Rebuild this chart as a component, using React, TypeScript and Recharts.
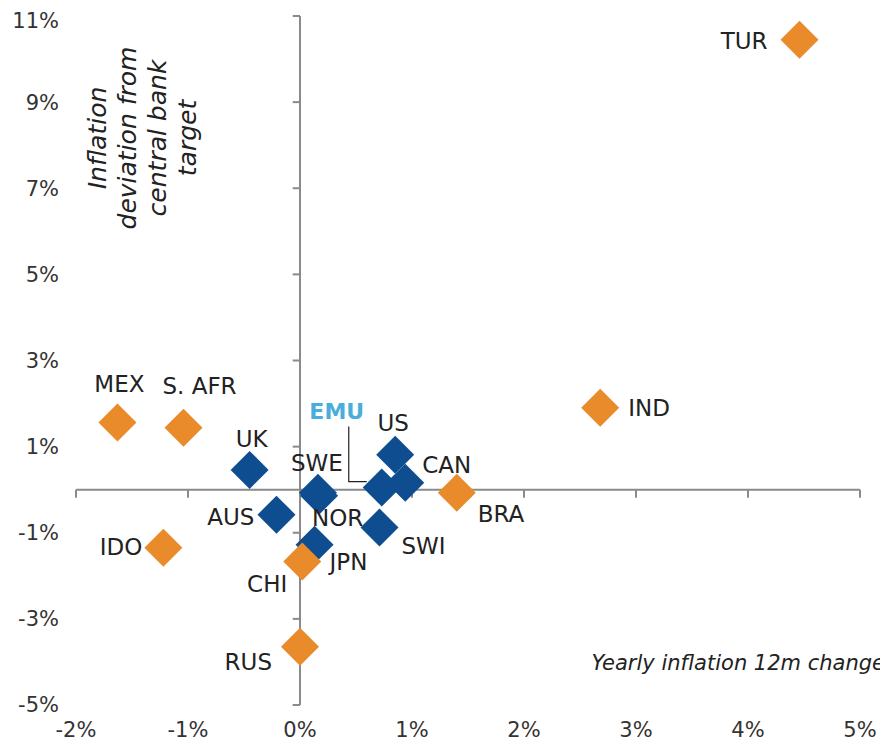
import React from 'react';
import { ScatterChart, Scatter, XAxis, YAxis, ReferenceLine, Customized } from 'recharts';

// ---- data ----
const advancedNames = ['UK', 'AUS', 'JPN', 'SWI', 'SWE', 'NOR', 'EMU', 'CAN', 'US'];
const advancedX = [-0.45, -0.21, 0.13, 0.71, 0.16, 0.17, 0.73, 0.94, 0.85];
const advancedY = [0.46, -0.58, -1.28, -0.88, -0.07, -0.14, 0.05, 0.16, 0.81];

const emergingNames = ['TUR', 'IND', 'MEX', 'S. AFR', 'BRA', 'IDO', 'CHI', 'RUS'];
const emergingX = [4.46, 2.68, -1.63, -1.04, 1.4, -1.22, 0.02, 0.0];
const emergingY = [10.45, 1.9, 1.56, 1.44, -0.07, -1.35, -1.67, -3.65];

const xTicks = [-2, -1, 0, 1, 2, 3, 4, 5];
const yTicks = [-5, -3, -1, 1, 3, 5, 7, 9, 11];

const xTitle = 'Yearly inflation 12m change';
const yTitleLines = ['Inflation', 'deviation from', 'central bank', 'target'];

// ---- styling ----
const FONT = 'DejaVu Sans';
const BLUE = '#0E4D8F';
const ORANGE = '#E98B2A';
const AXIS = '#8a8a8a';
const TEXT = '#222222';
const EMU_COLOR = '#4AAEDC';

type LP = { dx: number; dy: number; anchor: 'start' | 'middle' | 'end' };
const labelLayout: Record<string, LP> = {
  TUR: { dx: -32, dy: 1, anchor: 'end' },
  IND: { dx: 28, dy: 0, anchor: 'start' },
  MEX: { dx: 2, dy: -39, anchor: 'middle' },
  'S. AFR': { dx: 16, dy: -42, anchor: 'middle' },
  BRA: { dx: 21, dy: 21, anchor: 'start' },
  IDO: { dx: -21, dy: -1, anchor: 'end' },
  CHI: { dx: -15, dy: 22, anchor: 'end' },
  RUS: { dx: -28, dy: 15, anchor: 'end' },
  UK: { dx: 2, dy: -31, anchor: 'middle' },
  SWE: { dx: -1, dy: -30, anchor: 'middle' },
  NOR: { dx: -7, dy: 22, anchor: 'start' },
  AUS: { dx: -22, dy: 2, anchor: 'end' },
  JPN: { dx: 15, dy: 17, anchor: 'start' },
  SWI: { dx: 22, dy: 18, anchor: 'start' },
  US: { dx: -2, dy: -32, anchor: 'middle' },
  CAN: { dx: 17, dy: -18, anchor: 'start' },
  EMU: { dx: -45, dy: -77, anchor: 'middle' },
};

const toPoints = (names: string[], xs: number[], ys: number[]) =>
  names.map((name, i) => ({ name, x: xs[i], y: ys[i] }));

const advanced = toPoints(advancedNames, advancedX, advancedY);
const emerging = toPoints(emergingNames, emergingX, emergingY);

const R = 19;
const LABEL_SIZE = 23;

const makeDiamond = (fill: string) => (props: any) => {
  const { cx, cy, payload } = props;
  if (cx == null || cy == null) return <g />;
  const lp = labelLayout[payload.name];
  const isEmu = payload.name === 'EMU';
  return (
    <g>
      <polygon
        points={`${cx},${cy - R} ${cx + R},${cy} ${cx},${cy + R} ${cx - R},${cy}`}
        fill={fill}
      />
      {isEmu && (
        <polyline
          points={`${cx - 33},${cy - 61} ${cx - 33},${cy - 6} ${cx - 15},${cy - 6}`}
          fill="none"
          stroke="#222"
          strokeWidth={1.2}
        />
      )}
      {lp && (
        <text
          x={cx + lp.dx}
          y={cy + lp.dy}
          dy="0.365em"
          textAnchor={lp.anchor}
          fontFamily={FONT}
          fontSize={isEmu ? 22 : LABEL_SIZE}
          fontWeight={isEmu ? 'bold' : 'normal'}
          fill={isEmu ? EMU_COLOR : TEXT}
        >
          {payload.name}
        </text>
      )}
    </g>
  );
};

const Titles = () => (
  <g>
    <text
      x={877}
      y={654}
      dy="0.365em"
      textAnchor="end"
      fontFamily={FONT}
      fontStyle="italic"
      fontSize={21}
      fill={TEXT}
    >
      {xTitle}
    </text>
    <g transform="rotate(-90, 134, 130)">
      {yTitleLines.map((line, i) => (
        <text
          key={line}
          x={134}
          y={130 + (i - 1.5) * 30}
          dy="0.35em"
          textAnchor="middle"
          fontFamily={FONT}
          fontStyle="italic"
          fontSize={25}
          fill={TEXT}
        >
          {line}
        </text>
      ))}
    </g>
  </g>
);

const tickStyle = { fill: '#333', fontSize: 21, fontFamily: FONT };

const YTick = (props: any) => {
  const { x, y, payload } = props;
  const top = payload.value === yTicks[yTicks.length - 1];
  return (
    <text
      x={x}
      y={y + (top ? 5 : 0)}
      dy="0.355em"
      textAnchor="end"
      fill="#333"
      fontSize={21}
      fontFamily={FONT}
    >
      {`${payload.value}%`}
    </text>
  );
};

export default function App() {
  return (
    <div style={{ width: 880, height: 740 }}>
      <ScatterChart
        width={880}
        height={740}
        margin={{ top: 8, right: 28, bottom: 0, left: 0 }}
        style={{ overflow: 'visible' }}
      >
        <XAxis
          type="number"
          dataKey="x"
          domain={[-2, 5]}
          ticks={xTicks}
          interval={0}
          allowDataOverflow
          axisLine={false}
          tickLine={false}
          tickSize={0}
          tickMargin={17}
          height={43}
          tick={tickStyle}
          tickFormatter={(v: number) => `${v}%`}
        />
        <YAxis
          type="number"
          dataKey="y"
          domain={[-5, 11]}
          ticks={yTicks}
          interval={0}
          allowDataOverflow
          axisLine={false}
          tickLine={false}
          tickSize={0}
          tickMargin={17}
          width={68}
          tick={<YTick />}
        />
        <ReferenceLine x={0} stroke={AXIS} strokeWidth={2} />
        <ReferenceLine y={0} stroke={AXIS} strokeWidth={2} />
        {yTicks.map((t) => (
          <ReferenceLine
            key={'yt' + t}
            segment={[{ x: 0, y: t }, { x: -0.065, y: t }]}
            stroke={AXIS}
            strokeWidth={2}
          />
        ))}
        {xTicks.map((t) => (
          <ReferenceLine
            key={'xt' + t}
            segment={[{ x: t, y: 0 }, { x: t, y: -0.19 }]}
            stroke={AXIS}
            strokeWidth={2}
          />
        ))}
        <Scatter
          name="Advanced"
          data={advanced}
          fill={BLUE}
          shape={makeDiamond(BLUE)}
          isAnimationActive={false}
        />
        <Scatter
          name="Emerging"
          data={emerging}
          fill={ORANGE}
          shape={makeDiamond(ORANGE)}
          isAnimationActive={false}
        />
        <Customized component={<Titles />} />
      </ScatterChart>
    </div>
  );
}
